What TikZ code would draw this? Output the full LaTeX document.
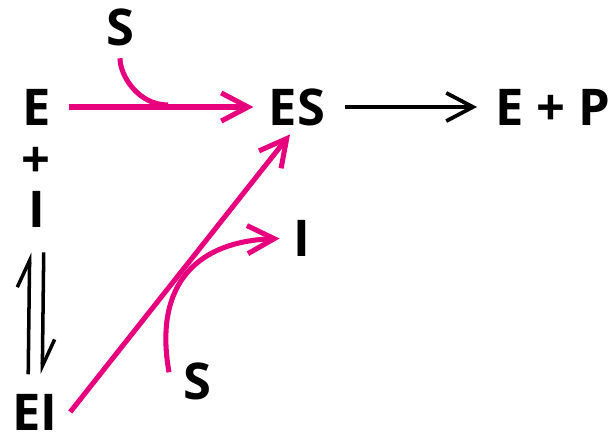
\documentclass[tikz,border=0pt]{standalone}
\usepackage{fontspec}
\setmainfont{Open Sans}
\usepackage{tikz}
\usetikzlibrary{backgrounds,arrows.meta}
\pgfdeclarelayer{background}
\pgfsetlayers{background,main}
\usepackage{xcolor}
\definecolor{inhibmagenta}{RGB}{230,0,126}

\begin{document}
\begin{tikzpicture}[
  x=0.025cm, y=-0.025cm,
  every node/.style={font=\fontsize{36}{40}\selectfont\bfseries},
  lbl/.style={inner sep=0pt, outer sep=0pt, text=black},
  arr/.style={-{Straight Barb[length=19pt,width=20pt]}, line width=2.7pt, black},
  marr/.style={-{Straight Barb[length=19pt,width=20pt]}, line width=3.6pt, inhibmagenta},
  mfeed/.style={line width=3.6pt, inhibmagenta},
  harp/.style={-{Straight Barb[left,length=19pt,width=17pt]}, line width=2.5pt, black},
]
\useasboundingbox (0,0) rectangle (612,443);

% ── TOP ROW ── E -> ES -> E + P  (y=107)
\node[lbl] at ( 37, 107) (E)   {E};
\node[lbl] at (297, 107) (ES)  {ES};
\node[lbl] at (553, 107) (EP)  {E + P};
\node[lbl] at (120,  27) (S1)  {S};

% ── LEFT COLUMN ── + I, EI
\node[lbl] at ( 36, 162) (plus) {+};
\node[lbl] at ( 37, 209) (I1)   {I};
\node[lbl] at ( 35, 412) (EI)   {EI};

% ── MIDDLE ── released I, incoming S
\node[lbl] at (302, 238) (I2)  {I};
\node[lbl] at (197, 381) (S2)  {S};

\coordinate (join) at (168, 105);

%% ══════════════════ ARROWS ══════════════════

\begin{pgfonlayer}{background}

% E -> ES, S joins
\draw[marr, shorten <=13pt, shorten >=11pt] (E.east) -- (ES.west);
\draw[mfeed, shorten <=9pt] (S1.south) to[out=-90, in=180] (join);

% ES -> E + P
\draw[arr, shorten <=14pt, shorten >=13pt] (ES.east) -- (EP.west);

% E + I <=> EI
\draw[harp, shorten <=14pt, shorten >=18pt] ([xshift=-5pt]EI.north) -- ([xshift=-5pt]I1.south);
\draw[harp, shorten <=18pt, shorten >=14pt] ([xshift=5pt]I1.south) -- ([xshift=5pt]EI.north);

% EI -> ES
\draw[marr, shorten >=8pt] ([xshift=9pt]EI.east) -- (ES.south);

% S in, I out
\draw[marr, shorten >=10pt] ([xshift=-10pt,yshift=-7pt]S2.north west) to[out=100, in=182, looseness=1.3] (I2.west);

\end{pgfonlayer}

\end{tikzpicture}
\end{document}
